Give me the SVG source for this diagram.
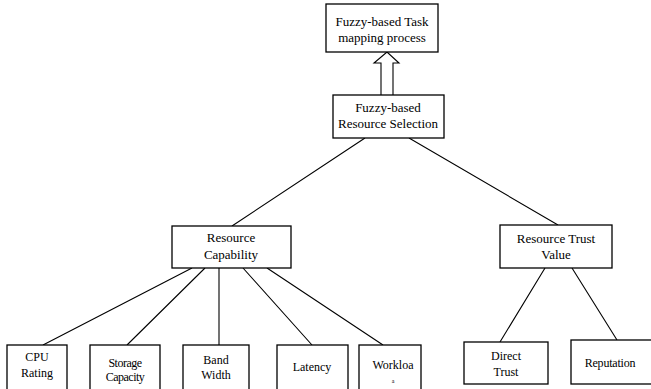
<svg xmlns="http://www.w3.org/2000/svg" width="651" height="389" viewBox="0 0 651 389">
<style>
.box{fill:#fff;stroke:#000;stroke-width:1.3}
.t{font-family:"Liberation Serif","Times New Roman",serif;font-size:13px;fill:#000;text-anchor:middle}
.s{font-family:"Liberation Serif","Times New Roman",serif;font-size:12px;fill:#000;text-anchor:middle}
.ln{stroke:#000;stroke-width:1.1;fill:none}
</style>
<rect width="651" height="389" fill="#fff"/>
<g id="connectors">
<path class="ln" d="M365 138L232 226M409 138L558 225"/>
<path class="ln" d="M192 268L43 345M205 268L127 345M219 268L219 345M243 268L312 345M267 268L383 345"/>
<path class="ln" d="M545 268L500 342M572 268L617 340"/>
<path d="M381 95V63H374L387 52L399 63H393V95" fill="#fff" stroke="#000" stroke-width="1.1"/>
</g>
<g id="task-mapping">
<rect class="box" x="326" y="4" width="112" height="48"/>
<text class="t" x="382" y="26">Fuzzy-based Task</text>
<text class="t" x="382" y="42">mapping process</text>
</g>
<g id="resource-selection">
<rect class="box" x="333" y="95" width="111" height="43"/>
<text class="t" x="388" y="112">Fuzzy-based</text>
<text class="t" x="388" y="128">Resource Selection</text>
</g>
<g id="resource-capability">
<rect class="box" x="172" y="226" width="119" height="42"/>
<text class="t" x="231" y="242">Resource</text>
<text class="t" x="231" y="259">Capability</text>
</g>
<g id="resource-trust">
<rect class="box" x="500" y="225" width="112" height="43"/>
<text class="t" x="556" y="243">Resource Trust</text>
<text class="t" x="556" y="259">Value</text>
</g>
<g id="cpu">
<rect class="box" x="7" y="345" width="60" height="50"/>
<text class="s" x="37" y="361">CPU</text>
<text class="s" x="37" y="377">Rating</text>
</g>
<g id="storage">
<rect class="box" x="90" y="345" width="70" height="50"/>
<text class="s" x="125" y="367" letter-spacing="-0.5">Storage</text>
<text class="s" x="125" y="381" letter-spacing="-0.5">Capacity</text>
</g>
<g id="bandwidth">
<rect class="box" x="183" y="345" width="66" height="50"/>
<text class="s" x="216" y="364">Band</text>
<text class="s" x="216" y="379">Width</text>
</g>
<g id="latency">
<rect class="box" x="277" y="345" width="71" height="50"/>
<text class="s" x="312" y="371">Latency</text>
</g>
<g id="workload">
<rect class="box" x="359" y="345" width="62" height="50"/>
<text class="s" x="393" y="369">Workloa</text>
<text class="s" x="393" y="383" style="font-size:6px">a</text>
</g>
<g id="direct-trust">
<rect class="box" x="464" y="342" width="84" height="42"/>
<text class="s" x="506" y="360">Direct</text>
<text class="s" x="506" y="376">Trust</text>
</g>
<g id="reputation">
<rect class="box" x="571" y="340" width="90" height="44"/>
<text class="s" x="610" y="367" letter-spacing="-0.2">Reputation</text>
</g>
</svg>
